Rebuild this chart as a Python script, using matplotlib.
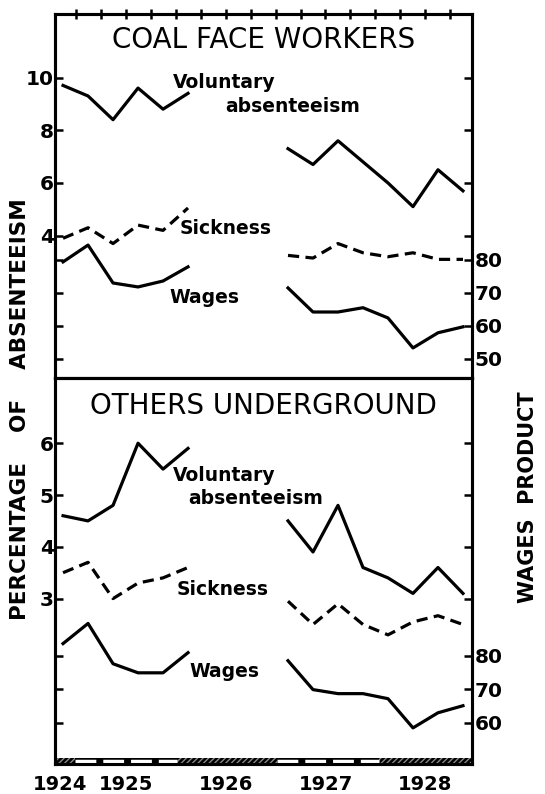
import matplotlib
matplotlib.use('Agg')
import matplotlib.pyplot as plt
from matplotlib.patches import Rectangle

# quarters (mid-quarter, in years)
q_a = [1924.375, 1924.625, 1924.875, 1925.125, 1925.375, 1925.625]
q_b = [1926.625, 1926.875, 1927.125, 1927.375, 1927.625, 1927.875, 1928.125, 1928.375]

# coal face workers
cf_vol_a = [9.7, 9.3, 8.4, 9.6, 8.8, 9.4]
cf_vol_b = [7.3, 6.7, 7.6, 6.8, 6.0, 5.1, 6.5, 5.7]
cf_sick_a = [3.9, 4.3, 3.7, 4.4, 4.2, 5.05]
cf_sick_b = [3.25, 3.15, 3.7, 3.35, 3.2, 3.35, 3.1, 3.1]
cf_wage_a = [79.4, 84.5, 73.0, 71.8, 73.6, 77.9]
cf_wage_b = [71.5, 64.2, 64.2, 65.5, 62.4, 53.3, 57.9, 59.7]

# others underground
ou_vol_a = [4.6, 4.5, 4.8, 6.0, 5.5, 5.9]
ou_vol_b = [4.5, 3.9, 4.8, 3.6, 3.4, 3.1, 3.6, 3.1]
ou_sick_a = [3.5, 3.7, 3.0, 3.3, 3.4, 3.6]
ou_sick_b = [2.95, 2.5, 2.9, 2.5, 2.3, 2.55, 2.67, 2.5]
ou_wage_a = [83.6, 89.6, 77.6, 74.9, 74.9, 80.9]
ou_wage_b = [78.5, 69.9, 68.7, 68.7, 67.2, 58.5, 63.0, 65.1]

year_ticks = [1924.345, 1925, 1926, 1927, 1928]
year_labels = ['1924', '1925', '1926', '1927', '1928']
quarter_ticks = [1924.5 + 0.25 * i for i in range(16)]

# bottom bar: dashed (white) periods, hatched elsewhere
dash_periods = [(1924.49, 1925.51), (1926.51, 1927.54)]

xlim = (1924.295, 1928.465)
bold = {'family': 'DejaVu Sans', 'weight': 'bold'}

fig = plt.figure(figsize=(5.45, 7.94), dpi=100)
ax_top = fig.add_axes([0.101, 0.524, 0.765, 0.458])
ax_bot = fig.add_axes([0.101, 0.038, 0.765, 0.486])


def panel(ax, title, title_y, vol_a, vol_b, sick_a, sick_b, wage_a, wage_b,
          pct_lim, pct_ticks, wage_lim, wage_ticks, labels):
    ax2 = ax.twinx()
    for a in (ax, ax2):
        for s in a.spines.values():
            s.set_linewidth(2.2)
        a.set_xlim(*xlim)

    ax.plot(q_a, vol_a, color='black', lw=2.3)
    ax.plot(q_b, vol_b, color='black', lw=2.3)
    ax.plot(q_a, sick_a, color='black', lw=2.3, ls=(0, (3.5, 2)))
    ax.plot(q_b, sick_b, color='black', lw=2.3, ls=(0, (3.5, 2)))
    ax2.plot(q_a, wage_a, color='black', lw=2.3)
    ax2.plot(q_b, wage_b, color='black', lw=2.3)

    ax.set_ylim(*pct_lim)
    ax.set_yticks(pct_ticks)
    ax.set_yticklabels([str(t) for t in pct_ticks], fontdict=bold, fontsize=14.5)
    ax.tick_params(axis='y', direction='in', length=6, width=1.8, pad=1,
                   left=True, right=True, labelleft=True, labelright=False)
    ax2.set_ylim(*wage_lim)
    ax2.set_yticks(wage_ticks)
    ax2.set_yticklabels([str(t) for t in wage_ticks], fontdict=bold, fontsize=14.5)
    ax2.tick_params(axis='y', direction='in', length=6, width=1.8, pad=2,
                    left=True, right=True, labelleft=False, labelright=True)

    ax.text(0.5, title_y, title, transform=ax.transAxes, ha='center', va='center',
            fontsize=20, family='DejaVu Sans')
    for txt, x, y in labels:
        ax.text(x, y, txt, ha='left', va='center', fontsize=13.5, fontdict=bold)
    return ax2


ax2_top = panel(ax_top, 'COAL FACE WORKERS', 0.93, cf_vol_a, cf_vol_b, cf_sick_a, cf_sick_b,
                cf_wage_a, cf_wage_b, (-1.4, 12.4), [4, 6, 8, 10], (44.2, 154.5),
                [50, 60, 70, 80],
                [('Voluntary', 1925.47, 9.8), ('absenteeism', 1926.0, 8.9),
                 ('Sickness', 1925.54, 4.28), ('Wages', 1925.44, 1.67)])
ax2_bot = panel(ax_bot, 'OTHERS UNDERGROUND', 0.928, ou_vol_a, ou_vol_b, ou_sick_a, ou_sick_b,
                ou_wage_a, ou_wage_b, (-0.19, 7.26), [3, 4, 5, 6], (47.8, 162.7),
                [60, 70, 80],
                [('Voluntary', 1925.47, 5.38), ('absenteeism', 1925.63, 4.94),
                 ('Sickness', 1925.51, 3.18), ('Wages', 1925.64, 1.6)])

# top axis quarter ticks
ax_top.set_xticks(quarter_ticks)
ax_top.tick_params(axis='x', bottom=False, labelbottom=False, top=True,
                   direction='inout', length=7, width=1.8)
ax2_top.tick_params(axis='x', bottom=False, labelbottom=False)

ax_bot.set_xticks(year_ticks)
ax_bot.set_xticklabels(year_labels, fontdict=bold, fontsize=14)
ax_bot.tick_params(axis='x', length=0, pad=8)

# hatched / dashed bar along bottom axis
tr = ax_bot.get_xaxis_transform()
ax_bot.add_patch(Rectangle((xlim[0], 0), xlim[1] - xlim[0], 0.016, transform=tr,
                           facecolor='black', edgecolor='#888888', hatch='//////',
                           lw=0, clip_on=False, zorder=3))
for x0, x1 in dash_periods:
    ax_bot.add_patch(Rectangle((x0, 0), x1 - x0, 0.016, transform=tr,
                               facecolor='black', lw=0, zorder=3.5))
    ax_bot.plot([x0, x1], [0.008, 0.008], transform=tr, color='white', lw=2.5,
                ls=(0, (6, 2)), solid_capstyle='butt', clip_on=False, zorder=4)

fig.text(0.037, 1 - 409 / 794, 'PERCENTAGE    OF    ABSENTEEISM', rotation=90,
         ha='center', va='center', fontsize=15.5, fontdict=bold)
fig.text(0.969, 1 - 497 / 794, 'WAGES  PRODUCT', rotation=90,
         ha='center', va='center', fontsize=15, fontdict=bold)

plt.savefig('out.png', dpi=100)
